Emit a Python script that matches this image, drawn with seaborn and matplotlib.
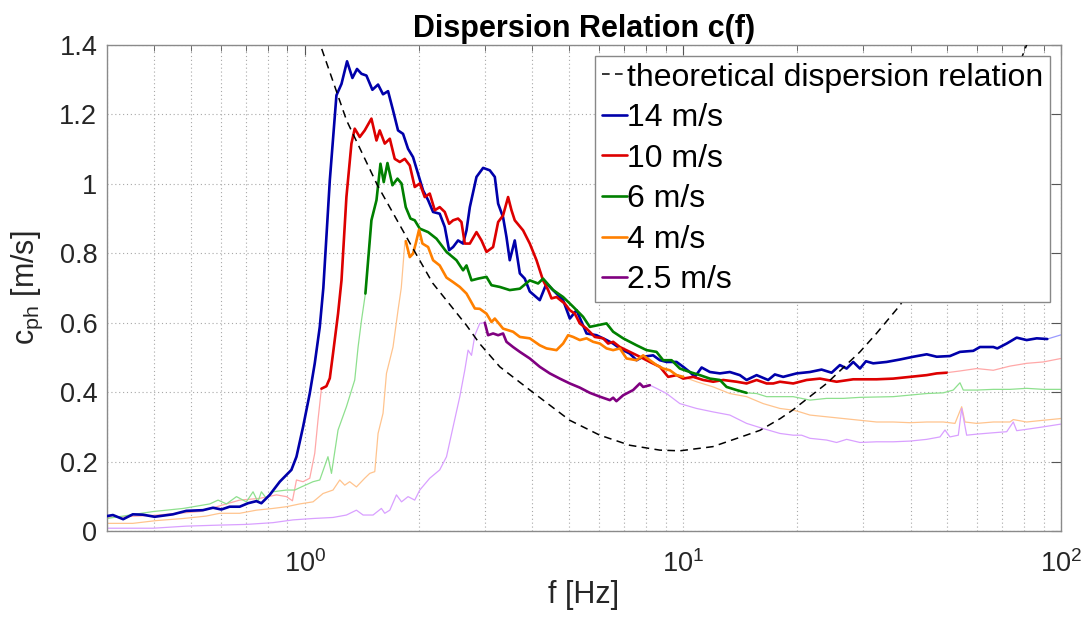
import numpy as np
import pandas as pd
import matplotlib
matplotlib.use("Agg")
import matplotlib.pyplot as plt
import seaborn as sns
from matplotlib.ticker import NullFormatter, LogLocator, FixedLocator

# ---------------- data ----------------
series_labels = ["14 m/s", "10 m/s", "6 m/s", "4 m/s", "2.5 m/s"]

f_14 = [0.30,0.311,0.331,0.351,0.373,0.401,0.448,0.486,0.538,0.572,0.602,0.633,0.673,0.708,0.745,0.768,0.808,0.859,0.922,0.951,0.990,1.031,1.063,1.096,1.12,1.165,1.213,1.251,1.294,1.337,1.375,1.413,1.456,1.510,1.563,1.611,1.661,1.712,1.765,1.820,1.876,1.934,1.994,2.056,2.120,2.185,2.275,2.346,2.409,2.468,2.544,2.623,2.678,2.733,2.846,2.963,3.086,3.182,3.247,3.346,3.416,3.485,3.593,3.706,3.819,3.937,4.184,4.359,4.633,4.823,5.024,5.234,5.563,5.911,6.283,6.541,6.813,7.240,7.543,7.853,8.345,8.694,9.056,9.623,10.02,10.43,10.76,11.21,11.79,12.53,13.31,14.15,14.74,15.67,16.81,17.51,18.42,19.99,21.68,23.27,24.74,26.02,27.11,28.22,29.40,30.49,31.87,34.58,37.51,40.68,44.14,46.91,50.85,54.05,58.61,61.05,66.22,67.86,71.84,76.35,81.14,86.25,91.99,100]
c_14 = [0.043,0.046,0.034,0.048,0.047,0.041,0.048,0.058,0.060,0.067,0.062,0.070,0.070,0.080,0.086,0.080,0.104,0.142,0.176,0.214,0.300,0.396,0.483,0.588,0.700,1.010,1.255,1.288,1.353,1.305,1.331,1.317,1.312,1.271,1.286,1.258,1.267,1.212,1.154,1.144,1.101,1.077,1.029,0.981,0.953,0.919,0.914,0.876,0.809,0.818,0.837,0.828,0.866,0.933,1.020,1.046,1.039,1.020,0.943,0.904,0.847,0.780,0.837,0.742,0.727,0.690,0.665,0.713,0.684,0.665,0.612,0.636,0.569,0.564,0.550,0.540,0.526,0.511,0.492,0.502,0.506,0.492,0.487,0.487,0.473,0.458,0.444,0.471,0.458,0.454,0.458,0.449,0.435,0.449,0.435,0.451,0.444,0.454,0.458,0.465,0.456,0.478,0.468,0.487,0.468,0.489,0.483,0.487,0.494,0.502,0.509,0.502,0.504,0.516,0.519,0.530,0.530,0.526,0.540,0.557,0.550,0.555,0.553,0.565]

f_10 = [0.30,0.397,0.528,0.673,0.760,0.842,0.895,0.928,0.951,0.990,1.031,1.063,1.084,1.107,1.141,1.165,1.188,1.225,1.251,1.289,1.329,1.356,1.398,1.441,1.501,1.548,1.579,1.628,1.679,1.730,1.784,1.839,1.896,1.954,2.015,2.077,2.141,2.208,2.275,2.346,2.409,2.468,2.544,2.597,2.650,2.733,2.846,2.934,3.025,3.149,3.247,3.346,3.450,3.522,3.593,3.780,3.937,4.102,4.269,4.403,4.494,4.633,4.873,5.024,5.180,5.340,5.563,5.851,6.155,6.345,6.541,6.813,7.240,7.694,8.178,8.694,9.144,9.623,10.02,10.65,11.32,12.03,12.79,13.87,14.74,15.67,16.65,17.34,18.06,19.58,21.25,23.04,25.50,28.22,32.54,36.00,39.86,44.14,46.91,49.84,54.05,59.84,66.22,73.30,81.14,89.81,100]
c_10 = [0.039,0.045,0.056,0.089,0.094,0.104,0.099,0.087,0.147,0.142,0.152,0.224,0.319,0.410,0.417,0.440,0.511,0.626,0.722,0.962,1.116,1.159,1.135,1.154,1.188,1.125,1.154,1.116,1.130,1.072,1.063,1.072,1.053,0.991,1.001,0.962,0.972,0.924,0.933,0.919,0.885,0.895,0.900,0.890,0.828,0.828,0.861,0.837,0.804,0.818,0.890,0.909,0.962,0.924,0.895,0.866,0.828,0.780,0.722,0.694,0.670,0.674,0.655,0.636,0.626,0.598,0.583,0.559,0.555,0.540,0.545,0.530,0.516,0.502,0.487,0.473,0.444,0.449,0.439,0.444,0.435,0.430,0.435,0.430,0.425,0.435,0.425,0.425,0.430,0.425,0.435,0.439,0.430,0.437,0.437,0.439,0.444,0.449,0.454,0.456,0.461,0.468,0.463,0.475,0.483,0.487,0.497]

f_6 = [0.30,0.397,0.477,0.561,0.590,0.621,0.660,0.701,0.730,0.752,0.768,0.792,0.824,0.895,0.941,0.980,1.052,1.096,1.152,1.177,1.225,1.289,1.356,1.384,1.413,1.447,1.501,1.548,1.586,1.618,1.655,1.706,1.759,1.803,1.850,1.904,1.954,2.015,2.120,2.231,2.371,2.519,2.623,2.678,2.761,2.874,3.025,3.118,3.281,3.485,3.706,3.937,4.142,4.269,4.539,4.823,5.127,5.447,5.675,5.969,6.283,6.541,6.952,7.543,8.017,8.517,8.868,9.336,9.819,10.43,11.09,11.79,12.53,13.05,13.87,14.74,15.67,16.65,18.06,19.58,21.68,23.99,26.55,29.40,36.00,44.14,48.83,51.89,54.05,55.14,59.84,66.22,73.30,81.14,89.81,100]
c_6 = [0.036,0.056,0.065,0.078,0.089,0.078,0.099,0.084,0.113,0.084,0.113,0.094,0.113,0.118,0.118,0.127,0.142,0.147,0.214,0.166,0.291,0.358,0.435,0.530,0.607,0.684,0.895,0.953,1.058,1.005,1.060,0.996,1.015,1.001,0.933,0.900,0.895,0.871,0.861,0.842,0.804,0.780,0.751,0.765,0.722,0.727,0.732,0.708,0.703,0.694,0.698,0.722,0.713,0.727,0.694,0.674,0.646,0.617,0.588,0.593,0.598,0.574,0.555,0.535,0.521,0.516,0.492,0.492,0.468,0.458,0.449,0.439,0.435,0.415,0.406,0.398,0.396,0.387,0.387,0.387,0.377,0.382,0.382,0.385,0.387,0.396,0.398,0.406,0.427,0.406,0.406,0.408,0.408,0.411,0.408,0.408]

f_4 = [0.30,0.351,0.405,0.477,0.549,0.596,0.673,0.745,0.824,0.895,0.970,1.052,1.118,1.188,1.238,1.276,1.315,1.370,1.441,1.486,1.532,1.563,1.611,1.645,1.712,1.765,1.80,1.839,1.850,1.896,1.934,1.966,2.006,2.048,2.120,2.185,2.275,2.371,2.468,2.571,2.678,2.818,2.904,3.025,3.118,3.182,3.346,3.556,3.706,3.937,4.184,4.359,4.633,4.823,4.972,5.127,5.340,5.563,5.790,6.031,6.283,6.541,6.813,7.096,7.543,7.853,8.178,8.517,8.868,9.240,9.623,10.02,10.87,12.03,13.31,14.74,16.31,18.06,19.58,20.39,21.68,23.99,26.55,29.40,32.54,36.00,39.86,44.14,48.83,52.44,54.62,55.72,59.84,66.22,73.30,74.79,81.14,89.81,100]
c_4 = [0.022,0.022,0.030,0.036,0.043,0.051,0.051,0.060,0.065,0.070,0.078,0.084,0.108,0.118,0.147,0.132,0.142,0.127,0.152,0.166,0.171,0.281,0.339,0.454,0.530,0.636,0.700,0.828,0.835,0.789,0.799,0.828,0.868,0.828,0.818,0.780,0.765,0.730,0.717,0.703,0.684,0.641,0.640,0.626,0.602,0.612,0.583,0.574,0.559,0.555,0.535,0.526,0.521,0.540,0.564,0.559,0.550,0.555,0.545,0.540,0.526,0.521,0.526,0.497,0.492,0.506,0.492,0.478,0.468,0.463,0.449,0.444,0.430,0.415,0.396,0.387,0.367,0.353,0.348,0.343,0.334,0.329,0.324,0.319,0.314,0.314,0.312,0.314,0.314,0.310,0.358,0.314,0.310,0.314,0.314,0.321,0.314,0.319,0.324]

f_25 = [0.30,0.351,0.397,0.486,0.596,0.701,0.824,0.931,1.052,1.188,1.289,1.370,1.427,1.516,1.595,1.628,1.679,1.748,1.803,1.876,1.954,2.015,2.141,2.275,2.371,2.468,2.571,2.650,2.704,2.761,2.818,2.904,2.994,3.054,3.149,3.247,3.346,3.416,3.556,3.706,3.937,4.184,4.447,4.727,5.024,5.340,5.675,6.031,6.411,6.541,6.672,6.952,7.387,7.694,7.853,8.178,8.517,9.056,9.819,10.87,12.03,13.31,14.74,16.31,18.06,19.58,20.61,21.68,23.99,25.50,27.11,29.40,32.54,36.00,39.86,44.14,47.86,49.34,50.85,53.51,54.62,56.30,59.84,66.22,71.84,74.79,76.35,81.14,89.81,100]
c_25 = [0.008,0.008,0.008,0.014,0.017,0.019,0.024,0.032,0.036,0.039,0.046,0.060,0.046,0.046,0.065,0.051,0.060,0.104,0.084,0.099,0.089,0.118,0.152,0.176,0.214,0.300,0.387,0.463,0.521,0.506,0.564,0.598,0.600,0.564,0.569,0.564,0.569,0.545,0.530,0.516,0.497,0.473,0.454,0.439,0.425,0.413,0.398,0.387,0.377,0.384,0.374,0.391,0.406,0.425,0.415,0.420,0.411,0.396,0.367,0.353,0.343,0.334,0.310,0.295,0.281,0.276,0.276,0.267,0.262,0.255,0.264,0.255,0.257,0.257,0.259,0.264,0.271,0.291,0.271,0.276,0.353,0.276,0.279,0.283,0.286,0.314,0.289,0.293,0.300,0.308]

# frequency range where each measurement is considered valid (bold part)
valid_14 = (0.30, 92.0)
valid_10 = (1.107, 49.9)
valid_6 = (1.447, 14.9)
valid_4 = (1.85, 10.2)
valid_25 = (2.99, 8.2)

f_theory = [1.0,1.10,1.29,1.557,1.90,2.18,2.68,2.90,3.28,3.94,5.02,6.03,7.24,8.69,9.82,12.0,14.7,16.0,18.1,19.5,24.0,29.4,32.5,37.5,50,65,81.1,90]
c_theory = [1.56,1.40,1.183,0.996,0.828,0.714,0.592,0.540,0.473,0.406,0.319,0.276,0.247,0.233,0.231,0.243,0.276,0.290,0.324,0.348,0.425,0.516,0.569,0.650,0.867,1.127,1.40,1.56]
theory_label = "theoretical dispersion relation"

y_ticks = [0, 0.2, 0.4, 0.6, 0.8, 1.0, 1.2, 1.4]
y_ticklabels = ["0", "0.2", "0.4", "0.6", "0.8", "1", "1.2", "1.4"]

# ---------------- styling ----------------
sns.set_style("white")
plt.rcParams["font.family"] = ["Liberation Sans", "DejaVu Sans"]
plt.rcParams["mathtext.fontset"] = "custom"
plt.rcParams["mathtext.rm"] = "Liberation Sans"
plt.rcParams["mathtext.it"] = "Liberation Sans"
plt.rcParams["mathtext.default"] = "regular"

dark_colors = ["#0000AA", "#DD0000", "#008000", "#FF8000", "#800080"]
light_colors = ["#9A9AFF", "#FFA8A8", "#8EE08E", "#FFC48E", "#D9A0FF"]

fig = plt.figure(figsize=(10.85, 6.26), dpi=100)
ax = fig.add_axes([107/1085, 1-531/626, (1061-107)/1085, (531-45)/626])

all_f = [f_14, f_10, f_6, f_4, f_25]
all_c = [c_14, c_10, c_6, c_4, c_25]
all_valid = [valid_14, valid_10, valid_6, valid_4, valid_25]

# thin full-range curves
for f, c, col in zip(all_f, all_c, light_colors):
    df = pd.DataFrame({"f": f, "c": c})
    sns.lineplot(data=df, x="f", y="c", ax=ax, color=col, linewidth=0.9,
                 estimator=None, sort=False, zorder=2)

handles = []
# theoretical relation
df_th = pd.DataFrame({"f": f_theory, "c": c_theory})
sns.lineplot(data=df_th, x="f", y="c", ax=ax, color="black", linewidth=1.1,
             estimator=None, sort=False, zorder=4)
th_line = ax.get_lines()[-1]
th_line.set_dashes((5, 3.5))
handles.append(th_line)

# bold valid parts
for f, c, (lo, hi), col in zip(all_f, all_c, all_valid, dark_colors):
    df = pd.DataFrame({"f": f, "c": c})
    df = df[(df["f"] >= lo) & (df["f"] <= hi)]
    sns.lineplot(data=df, x="f", y="c", ax=ax, color=col, linewidth=1.9,
                 estimator=None, sort=False, zorder=3)
    handles.append(ax.get_lines()[-1])

ax.set_xscale("log")
ax.set_xlim(0.3, 100)
ax.set_ylim(0, 1.4)
ax.set_yticks(y_ticks)
ax.set_yticklabels(y_ticklabels)
ax.xaxis.set_major_locator(FixedLocator([1, 10, 100]))
ax.xaxis.set_minor_locator(LogLocator(base=10, subs=np.arange(2, 10)))
ax.xaxis.set_minor_formatter(NullFormatter())

grid_kw = dict(linestyle=(0, (1, 2.5)), color="#a8a8a8", linewidth=0.8)
ax.grid(True, which="both", axis="x", **grid_kw)
ax.grid(True, which="major", axis="y", **grid_kw)
ax.set_axisbelow(True)

spine_col = "#8a8a8a"
for s in ax.spines.values():
    s.set_color(spine_col)
    s.set_linewidth(1.0)
    s.set_visible(True)

ax.tick_params(which="both", direction="in", top=True, right=True,
               color="#555555", labelcolor="#262626")
ax.tick_params(which="major", length=7, width=0.8, labelsize=19.5)
ax.tick_params(axis="x", which="major", pad=14)
ax.tick_params(axis="y", which="major", pad=7)
ax.tick_params(which="minor", length=4, width=0.6)

ax.set_xlabel("f [Hz]", fontsize=22, color="#262626", labelpad=1)
ax.set_ylabel(r"c$_{\rm ph}$ [m/s]", fontsize=22, color="#262626", labelpad=10)
ax.set_title("Dispersion Relation c(f)", fontsize=22, fontweight="bold",
             color="black", pad=6)

leg = ax.legend(handles, [theory_label] + series_labels, loc="upper right",
                fontsize=23, frameon=True, fancybox=False, framealpha=1,
                edgecolor="#888888", handlelength=0.8, handletextpad=0.0,
                borderpad=0.2, labelspacing=0.33, borderaxespad=0.35)
leg.get_frame().set_linewidth(1.0)
for t in leg.get_texts():
    t.set_color("black")
leg.set_zorder(10)

fig.savefig("out.png", dpi=100)
